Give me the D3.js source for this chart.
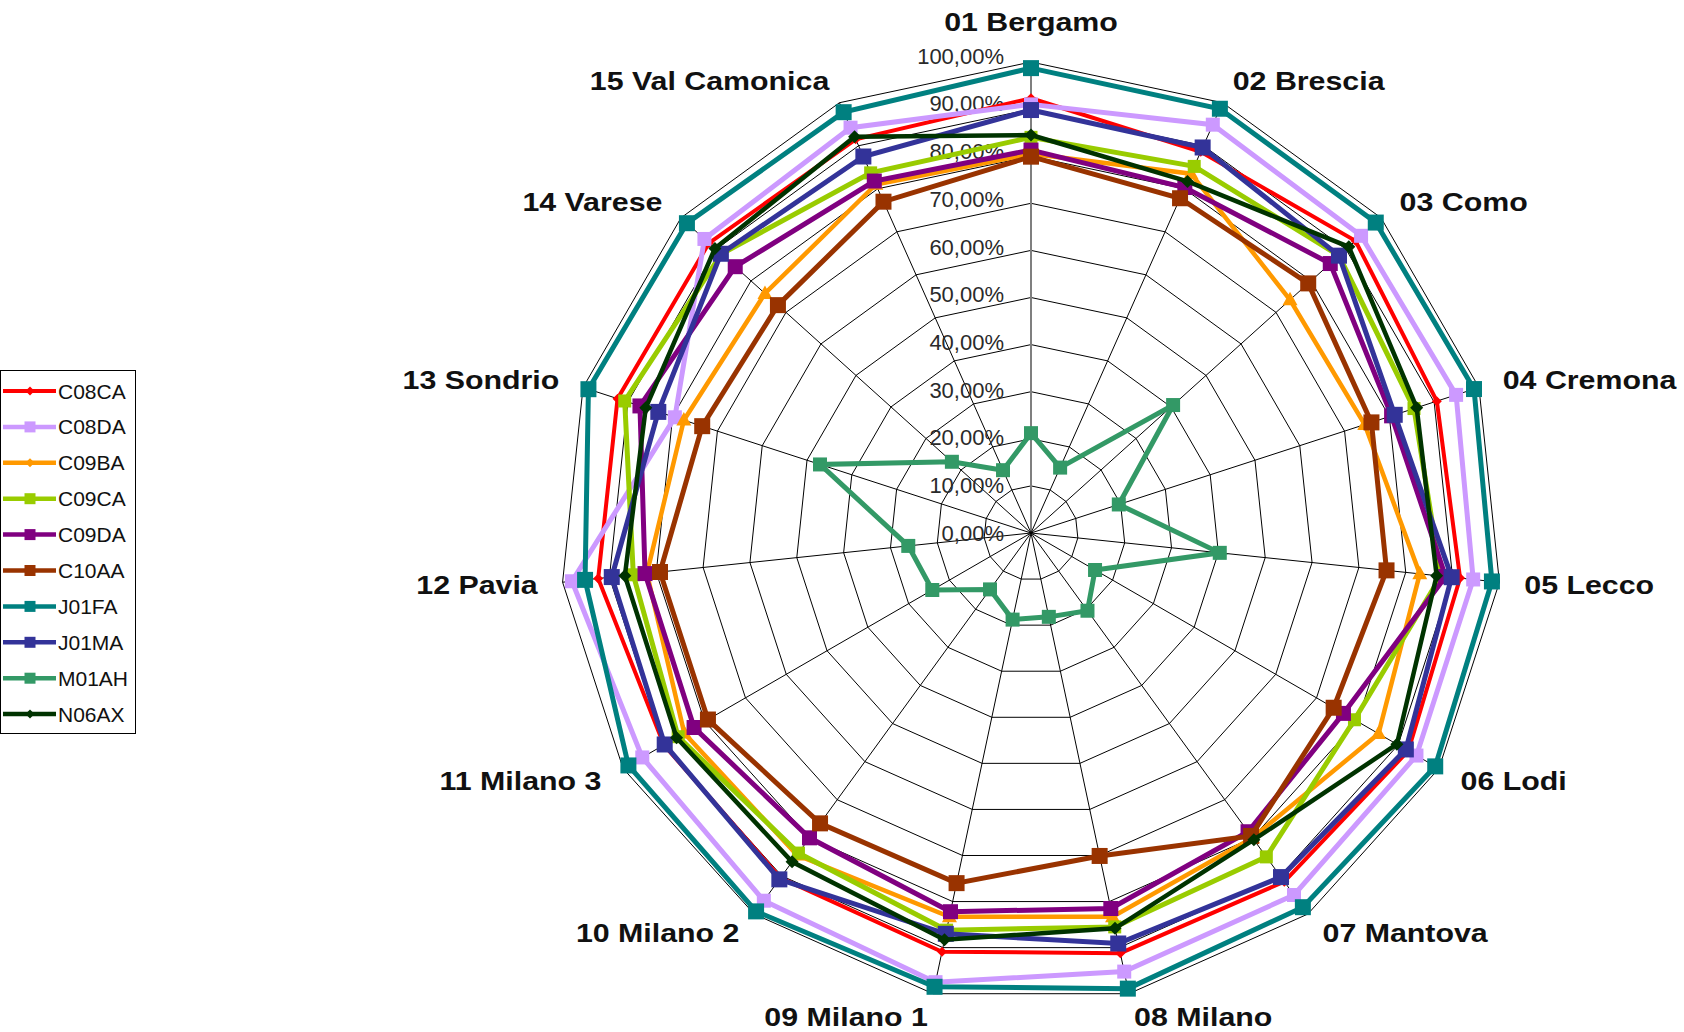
<!DOCTYPE html>
<html>
<head>
<meta charset="utf-8">
<script src="https://cdn.jsdelivr.net/npm/d3@7"></script>
<style>
  html, body { margin: 0; padding: 0; background: #fff; }
  svg { display: block; }
</style>
</head>
<body>
<svg id="chart" width="1684" height="1032"></svg>
<script>
// Provinces (radar axes), clockwise from the top
const categories = [
  "01 Bergamo", "02 Brescia", "03 Como", "04 Cremona", "05 Lecco",
  "06 Lodi", "07 Mantova", "08 Milano", "09 Milano 1", "10 Milano 2",
  "11 Milano 3", "12 Pavia", "13 Sondrio", "14 Varese", "15 Val Camonica"
];

// Radial axis ticks
const tickValues = [0, 0.1, 0.2, 0.3, 0.4, 0.5, 0.6, 0.7, 0.8, 0.9, 1.0];
const tickLabels = ["0,00%", "10,00%", "20,00%", "30,00%", "40,00%", "50,00%",
                    "60,00%", "70,00%", "80,00%", "90,00%", "100,00%"];

// Share per province for each ATC class
const C08CA = [0.923, 0.886, 0.927, 0.906, 0.916, 0.925, 0.915, 0.912, 0.909, 0.905, 0.900, 0.924, 0.923, 0.920, 0.915];
const C08DA = [0.910, 0.949, 0.943, 0.949, 0.944, 0.945, 0.950, 0.952, 0.975, 0.965, 0.953, 0.980, 0.795, 0.933, 0.942];
const C09BA = [0.805, 0.835, 0.740, 0.745, 0.830, 0.852, 0.800, 0.833, 0.833, 0.845, 0.850, 0.820, 0.775, 0.760, 0.810];
const C09CA = [0.840, 0.852, 0.880, 0.855, 0.875, 0.793, 0.850, 0.855, 0.862, 0.840, 0.865, 0.849, 0.907, 0.885, 0.837];
const C09DA = [0.813, 0.803, 0.855, 0.805, 0.885, 0.766, 0.784, 0.815, 0.822, 0.800, 0.826, 0.824, 0.873, 0.845, 0.818];
const C10AA = [0.799, 0.778, 0.792, 0.760, 0.759, 0.742, 0.795, 0.701, 0.760, 0.762, 0.792, 0.792, 0.734, 0.723, 0.770];
const J01FA = [0.987, 0.986, 0.985, 0.989, 0.984, 0.991, 0.982, 0.989, 0.985, 0.993, 0.987, 0.952, 0.988, 0.983, 0.978];
const J01MA = [0.898, 0.896, 0.880, 0.812, 0.898, 0.919, 0.903, 0.891, 0.870, 0.909, 0.898, 0.895, 0.832, 0.886, 0.875];
const M01AH = [0.212, 0.152, 0.406, 0.196, 0.403, 0.157, 0.204, 0.182, 0.188, 0.148, 0.242, 0.262, 0.471, 0.226, 0.146];
const N06AX = [0.845, 0.817, 0.908, 0.861, 0.866, 0.897, 0.805, 0.858, 0.883, 0.863, 0.869, 0.867, 0.860, 0.903, 0.921];

const seriesNames = ["C08CA", "C08DA", "C09BA", "C09CA", "C09DA", "C10AA", "J01FA", "J01MA", "M01AH", "N06AX"];
const seriesValues = [C08CA, C08DA, C09BA, C09CA, C09DA, C10AA, J01FA, J01MA, M01AH, N06AX];

// Drawing style per series
const styles = {
  C08CA: { color: "#ff0000", width: 4,   marker: "diamond",  size: 10 },
  C08DA: { color: "#cc99ff", width: 5,   marker: "square",   size: 14 },
  C09BA: { color: "#ff9900", width: 4.5, marker: "triangle", size: 15 },
  C09CA: { color: "#99cc00", width: 5,   marker: "square",   size: 13 },
  C09DA: { color: "#800080", width: 5,   marker: "square",   size: 15 },
  C10AA: { color: "#993300", width: 5,   marker: "square",   size: 16 },
  J01FA: { color: "#008080", width: 5,   marker: "square",   size: 16 },
  J01MA: { color: "#333399", width: 5,   marker: "square",   size: 16 },
  M01AH: { color: "#339966", width: 5,   marker: "square",   size: 14 },
  N06AX: { color: "#003300", width: 4.5, marker: "diamond",  size: 13 }
};

const svg = d3.select("#chart");
const cx = 1031, cy = 533, R = 471;
const n = categories.length;

const r = d3.scaleLinear().domain([0, 1]).range([0, R]);
// axis labels are spread a touch wider than the grid rings
const rLabel = d3.scaleLinear().domain([0, 1]).range([0, R + 6]);
const angle = d3.scaleLinear().domain([0, n]).range([0, 2 * Math.PI]);
const px = (i, v) => r(v) * Math.sin(angle(i));
const py = (i, v) => -r(v) * Math.cos(angle(i));

const g = svg.append("g").attr("transform", `translate(${cx},${cy})`);

// Web grid: one polygon per tick level
const ring = d3.lineRadial()
  .angle((d, i) => angle(i))
  .radius(d => r(d))
  .curve(d3.curveLinearClosed);

g.append("g").selectAll("path")
  .data(tickValues.filter(v => v > 0))
  .join("path")
  .attr("d", v => ring(d3.range(n).map(() => v)))
  .attr("fill", "none")
  .attr("stroke", "#000")
  .attr("stroke-width", 1);

// Spokes
g.append("g").selectAll("line")
  .data(d3.range(n))
  .join("line")
  .attr("x1", 0).attr("y1", 0)
  .attr("x2", i => px(i, 1)).attr("y2", i => py(i, 1))
  .attr("stroke", i => i === 0 ? "#7f7f7f" : "#000")
  .attr("stroke-width", i => i === 0 ? 2 : 1);

// Radial axis labels along the first spoke
g.append("g").selectAll("text")
  .data(tickValues)
  .join("text")
  .attr("x", -27)
  .attr("y", v => -rLabel(v))
  .attr("dy", "0.35em")
  .attr("text-anchor", "end")
  .attr("font-family", "'Liberation Sans', Arial, sans-serif")
  .attr("font-size", 22)
  .attr("fill", "#2a2a2a")
  .text((v, i) => tickLabels[i]);

// Marker generator
function markerPath(type, size) {
  if (type === "square") return d3.symbol(d3.symbolSquare, size * size)();
  if (type === "diamond") {
    const h = size / 2;
    return `M0,${-h}L${h},0L0,${h}L${-h},0Z`;
  }
  if (type === "triangle") {
    const h = size * 0.9;
    return `M0,${-h * 0.6}L${size / 2},${h * 0.4}L${-size / 2},${h * 0.4}Z`;
  }
  return d3.symbol(d3.symbolCircle, size * size)();
}

const series = seriesNames.map((name, k) => ({ name, values: seriesValues[k], style: styles[name] }));

const line = d3.lineRadial()
  .angle((d, i) => angle(i))
  .radius(d => r(d))
  .curve(d3.curveLinearClosed);

const sg = g.append("g").selectAll("g.series")
  .data(series)
  .join("g")
  .attr("class", "series");

sg.append("path")
  .attr("d", s => line(s.values))
  .attr("fill", "none")
  .attr("stroke", s => s.style.color)
  .attr("stroke-width", s => s.style.width)
  .attr("stroke-linejoin", "miter");

sg.each(function (s) {
  d3.select(this).selectAll("path.mk")
    .data(s.values)
    .join("path")
    .attr("class", "mk")
    .attr("transform", (v, i) => `translate(${px(i, v)},${py(i, v)})`)
    .attr("d", markerPath(s.style.marker, s.style.size))
    .attr("fill", s.style.color);
});

// Category labels around the web (bold, slightly widened)
const pad = 25;
const widen = 1.19;
g.append("g").selectAll("text")
  .data(categories)
  .join("text")
  .each(function (c, i) {
    const a = angle(i);
    const s = Math.sin(a), co = Math.cos(a);
    const x = (R + pad) * s;
    let y = -(R + pad * 0.95) * co;
    let anchor = "middle";
    if (s > 0.05) anchor = "start";
    else if (s < -0.05) anchor = "end";
    if (Math.abs(s) < 0.05 && co > 0) y -= 16;
    d3.select(this)
      .attr("transform", `translate(${x},${y}) scale(${widen},1)`)
      .attr("dy", "0.36em")
      .attr("text-anchor", anchor);
  })
  .attr("font-family", "'Liberation Sans', Arial, sans-serif")
  .attr("font-weight", "bold")
  .attr("font-size", 25.5)
  .attr("fill", "#111")
  .text(d => d);

// Legend
const legend = svg.append("g").attr("transform", "translate(0,370)");
legend.append("rect")
  .attr("x", 0.5).attr("y", 0.5)
  .attr("width", 135).attr("height", 363)
  .attr("fill", "#fff")
  .attr("stroke", "#000")
  .attr("stroke-width", 1);

const rowH = 35.9;
const li = legend.selectAll("g.item")
  .data(series)
  .join("g")
  .attr("class", "item")
  .attr("transform", (s, k) => `translate(0,${21 + k * rowH})`);

li.append("line")
  .attr("x1", 3).attr("x2", 56)
  .attr("y1", 0).attr("y2", 0)
  .attr("stroke", s => s.style.color)
  .attr("stroke-width", s => Math.min(s.style.width, 4.5));

li.append("path")
  .attr("transform", "translate(30,0)")
  .attr("d", s => markerPath(s.style.marker === "triangle" ? "diamond" : s.style.marker, s.style.marker === "square" ? 11 : 9))
  .attr("fill", s => s.style.color);

li.append("text")
  .attr("x", 58)
  .attr("y", 0)
  .attr("dy", "0.36em")
  .attr("font-family", "'Liberation Sans', Arial, sans-serif")
  .attr("font-size", 21)
  .attr("fill", "#111")
  .text(s => s.name);
</script>
</body>
</html>
